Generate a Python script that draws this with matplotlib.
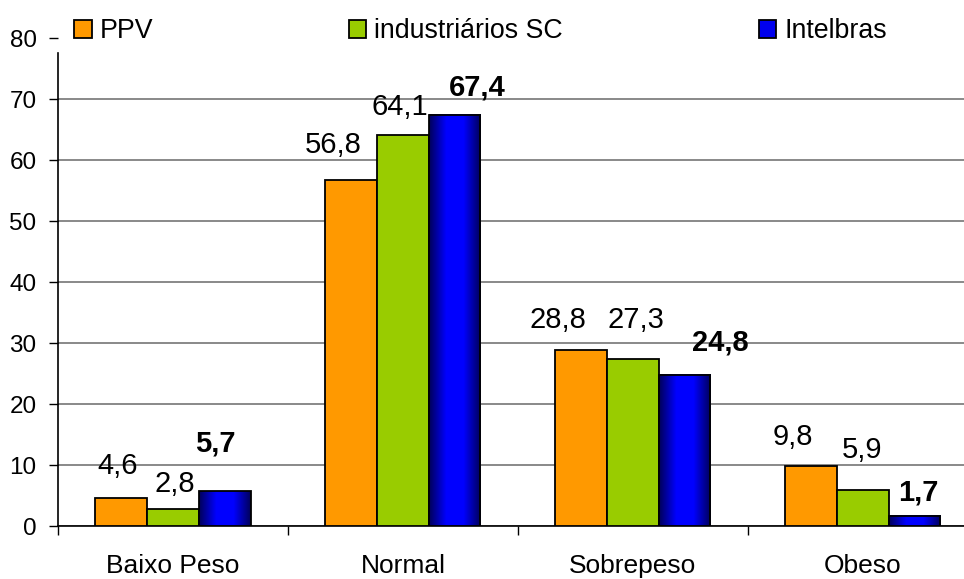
import numpy as np
import matplotlib.pyplot as plt
from matplotlib.colors import LinearSegmentedColormap
from matplotlib.patches import Patch

plt.rcParams['font.family'] = ['Liberation Sans', 'DejaVu Sans']

categorias = ['Baixo Peso', 'Normal', 'Sobrepeso', 'Obeso']
ppv = [4.6, 56.8, 28.8, 9.8]
industriarios = [2.8, 64.1, 27.3, 5.9]
intelbras = [5.7, 67.4, 24.8, 1.7]
series_nomes = ['PPV', 'industriários SC', 'Intelbras']
yticks = [0, 10, 20, 30, 40, 50, 60, 70, 80]

# deslocamento dos rótulos (pixels) em relação ao topo da barra
desloc_ppv = [(-4, 32), (-18, 35), (-23, 30), (-18, 29)]
desloc_ind = [(2, 25), (-3, 28), (3, 39), (-1, 40)]
desloc_int = [(-9, 48), (23, 27), (36, 32), (4, 23)]

fig = plt.figure(figsize=(9.64, 5.79), dpi=100)
ax = fig.add_axes([0.0602, 0.0915, 0.954, 0.8428])

x = np.arange(len(categorias))
w = 0.225

ax.bar(x - w, ppv, w, color='#FF9900', edgecolor='black', linewidth=1.3, zorder=3)
ax.bar(x, industriarios, w, color='#99CC00', edgecolor='black', linewidth=1.3, zorder=3)
barras_azuis = ax.bar(x + w, intelbras, w, facecolor='none', edgecolor='black',
                      linewidth=1.3, zorder=4)

# gradiente horizontal nas barras azuis
cmap = LinearSegmentedColormap.from_list('azul', ['#000058', '#0000FF', '#0000FF', '#000058'])
grad = np.linspace(0, 1, 256).reshape(1, -1)
for b in barras_azuis:
    x0, y0 = b.get_x(), b.get_y()
    ax.imshow(grad, cmap=cmap, aspect='auto', zorder=3,
              extent=(x0, x0 + b.get_width(), y0, y0 + b.get_height()))

ax.set_xlim(-0.5, len(categorias) - 0.5)
ax.set_ylim(0, 80)

# rótulos de valores
def rotular(xs, vals, desloc, bold=False):
    for xi, v, (dx, dy) in zip(xs, vals, desloc):
        ax.annotate(f'{v:.1f}'.replace('.', ','), (xi, v), xytext=(dx, dy),
                    textcoords='offset pixels', ha='center', va='center',
                    fontsize=21, fontweight='bold' if bold else 'normal', zorder=6)

rotular(x - w, ppv, desloc_ppv)
rotular(x, industriarios, desloc_ind)
rotular(x + w, intelbras, desloc_int, bold=True)

# eixos
ax.set_yticks(yticks)
ax.tick_params(axis='y', labelsize=17.5, length=6.5, width=1, pad=9, color='black')
ax.yaxis.grid(True, color='#808080', linewidth=1.3, zorder=0)
ax.get_ygridlines()[-1].set_visible(False)
ax.set_axisbelow(True)

ax.set_xticks(x)
ax.set_xticklabels(categorias)
ax.set_xticks(np.arange(len(categorias) + 1) - 0.5, minor=True)
ax.tick_params(axis='x', which='major', length=0, labelsize=19, pad=20)
ax.tick_params(axis='x', which='minor', length=6.5, width=1, color='black')

for s in ['top', 'right']:
    ax.spines[s].set_visible(False)
ax.spines['left'].set_bounds(0, 77.5)
ax.spines['left'].set_linewidth(1.2)
ax.spines['bottom'].set_linewidth(1.2)

handles = [Patch(facecolor='#FF9900', edgecolor='black', linewidth=1.3),
           Patch(facecolor='#99CC00', edgecolor='black', linewidth=1.3),
           Patch(facecolor='#0000EE', edgecolor='black', linewidth=1.3)]
fig.legend(handles, series_nomes, loc='center left', bbox_to_anchor=(0.077, 0.946),
           ncol=3, frameon=False, fontsize=19.3, handlelength=0.65, handleheight=0.65,
           handletextpad=0.3, columnspacing=7.3, borderaxespad=0, borderpad=0)

plt.savefig('out.png', dpi=100)
